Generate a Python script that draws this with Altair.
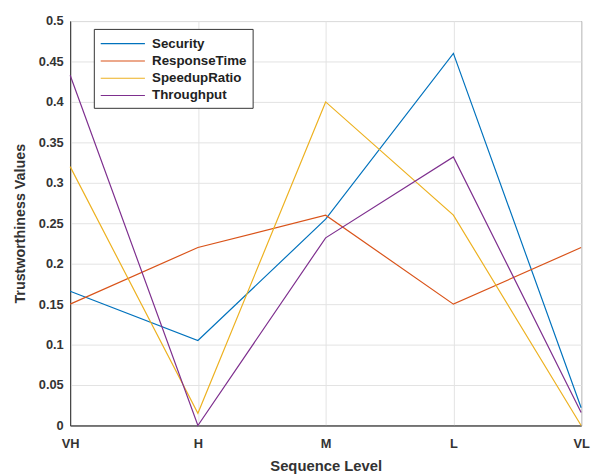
import altair as alt
import pandas as pd

levels = ["VH", "H", "M", "L", "VL"]
series = ["Security", "ResponseTime", "SpeedupRatio", "Throughput"]
security = [0.166, 0.105, 0.255, 0.460, 0.022]
response_time = [0.150, 0.220, 0.260, 0.150, 0.220]
speedup_ratio = [0.320, 0.015, 0.400, 0.260, 0.000]
throughput = [0.433, 0.000, 0.232, 0.332, 0.016]
colors = ["#0072BD", "#D95319", "#EDB120", "#7E2F8E"]

rows = []
for name, vals in zip(series, [security, response_time, speedup_ratio, throughput]):
    for i, (lv, v) in enumerate(zip(levels, vals)):
        rows.append({"Level": lv, "Idx": i, "Series": name, "Value": v})
df = pd.DataFrame(rows)

font = "Liberation Sans"

chart = alt.Chart(df).mark_line(strokeWidth=1.2).encode(
    x=alt.X("Level:N", sort=levels, scale=alt.Scale(type="point", padding=0),
            axis=alt.Axis(title="Sequence Level", labelAngle=0, grid=True, ticks=False,
                          labelPadding=12, titlePadding=9, titleFontSize=15)),
    y=alt.Y("Value:Q", scale=alt.Scale(domain=[0, 0.5], nice=False),
            axis=alt.Axis(title="Trustworthiness Values", values=[i * 0.05 for i in range(11)],
                          format="~g", grid=True, ticks=False, labelPadding=7, titlePadding=11)),
    color=alt.Color("Series:N", sort=series,
                    scale=alt.Scale(domain=series, range=colors),
                    legend=alt.Legend(title=None, orient="none", legendX=24, legendY=8,
                                      symbolType="M-1,0H4.6", symbolSize=256, symbolStrokeWidth=1.2,
                                      strokeColor="#333333", fillColor="white", padding=6,
                                      rowPadding=1.5, labelFontSize=13.5, labelFontWeight="bold",
                                      labelFont=font, labelColor="#222222", labelOffset=35)),
    order=alt.Order("Idx:Q"),
).properties(
    width=518, height=410,
    autosize=alt.AutoSizeParams(type="none"),
    padding={"left": 63, "top": 10, "right": 10, "bottom": 47},
).configure_view(
    stroke="#333333", strokeWidth=1
).configure_axis(
    labelFont=font, titleFont=font, labelFontSize=13, labelFontWeight="bold",
    titleFontSize=14.5, titleFontWeight="bold", labelColor="#333333", titleColor="#333333",
    gridColor="#e3e3e3", domainColor="#333333"
)

chart.save("out.html", embed_options={"renderer": "svg", "actions": False})
